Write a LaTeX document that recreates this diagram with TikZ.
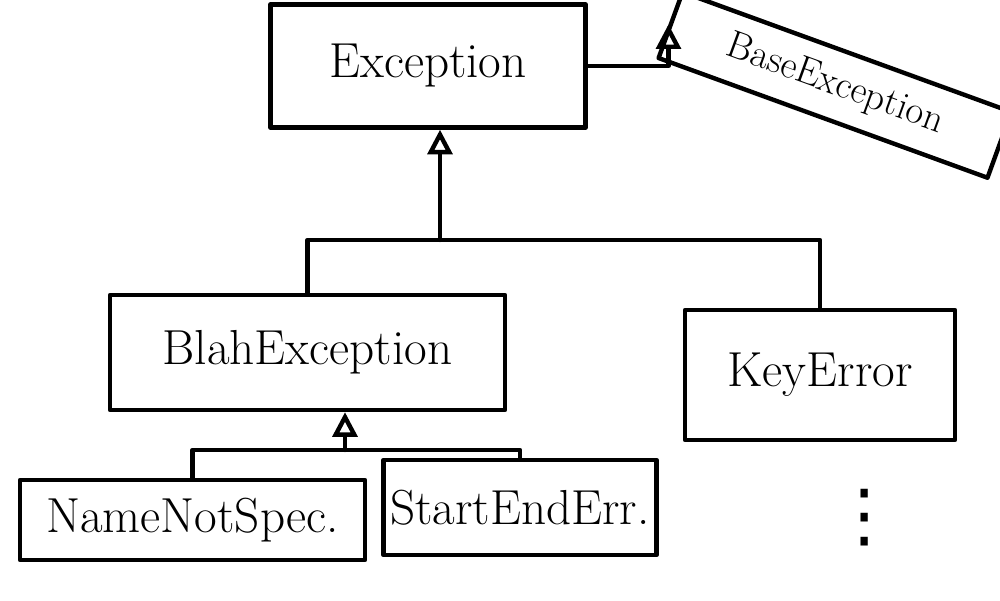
\documentclass[tikz,border=0pt]{standalone}
\usepackage{fontspec}
\usepackage{tikz}
\usetikzlibrary{arrows.meta}
\newfontfamily\symfont{DejaVu Sans}

\begin{document}
\begin{tikzpicture}[line width=2.5pt,line join=round,line cap=round,
    class node/.style={rectangle,draw,inner sep=4pt,font=\fontsize{28}{32}\selectfont},
    inherit/.style={-{Triangle[open,length=14pt,width=14pt]}}]
  \useasboundingbox (0,0) rectangle (20,12);

  \node[class node,minimum width=6.3cm,minimum height=2.46cm] (exc) at (8.56,10.68) {Exception};
  \node[class node,minimum width=7cm,minimum height=1.4cm,rotate=-20,font=\fontsize{22}{26}\selectfont] (base) at (16.7,10.3) {BaseException};
  \node[class node,minimum width=7.9cm,minimum height=2.3cm] (blah) at (6.15,4.95) {BlahException};
  \node[class node,minimum width=5.4cm,minimum height=2.6cm] (key) at (16.4,4.5) {KeyError};
  \node[class node,minimum width=6.9cm,minimum height=1.6cm] (name) at (3.85,1.6) {NameNotSpec.};
  \node[class node,minimum width=5.4cm,minimum height=1.9cm] (start) at (10.4,1.85) {StartEndErr.};
  \node[font=\symfont\fontsize{40}{44}\selectfont] (more) at (17.3,1.65) {⋮};

  \coordinate (top joint) at (8.8,7.2);
  \coordinate (low joint) at (6.9,3.0);

  \draw[inherit] (exc.east) -| (base.west);
  \draw[inherit] (top joint) -- (exc.south -| top joint);
  \draw (blah.north) |- (top joint) -| (key.north);
  \draw[inherit] (low joint) -- (blah.south -| low joint);
  \draw (name.north) |- (low joint) -| (start.north);

\end{tikzpicture}
\end{document}
